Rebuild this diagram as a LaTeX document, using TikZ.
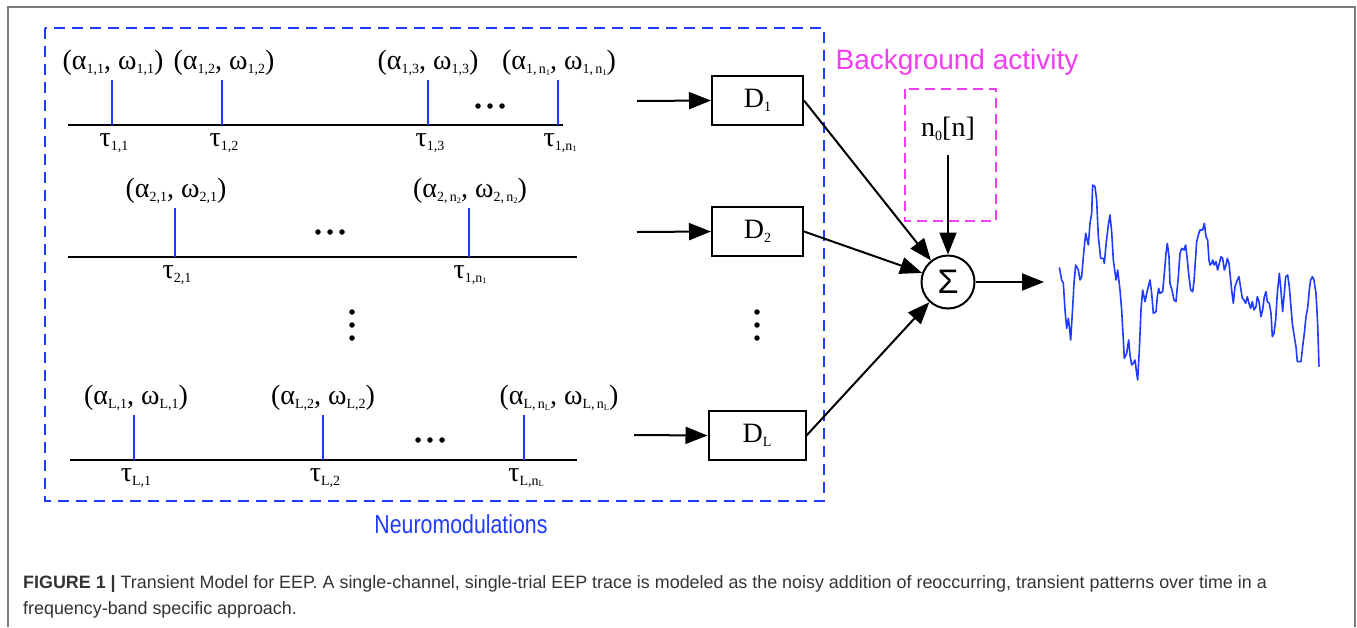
\documentclass[tikz,border=0pt]{standalone}
\usepackage{fontspec}
\setmainfont{Liberation Serif}
\newfontfamily\arialfont{Liberation Sans}
\usetikzlibrary{arrows.meta}

\definecolor{nmblue}{HTML}{1F3BFF}
\definecolor{bgpink}{HTML}{F23CF2}
\definecolor{framegray}{HTML}{7A7A7A}
\definecolor{captext}{HTML}{333333}

% lowered subscripts in text mode
\newcommand\sbx[1]{\raisebox{-0.3ex}{\fontsize{14}{14}\selectfont #1}}
\newcommand\sbn[1]{\raisebox{-0.25ex}{\fontsize{8.5}{8.5}\selectfont #1}}

\tikzset{
  lbl/.style={inner sep=0pt, font=\fontsize{28}{32}\selectfont},
  axis/.style={line width=2.4pt, black},
  tick/.style={line width=2.4pt, nmblue},
  dbox/.style={draw, line width=2pt, minimum width=91pt, minimum height=49pt, inner sep=0pt, font=\fontsize{28}{32}\selectfont},
  conn/.style={line width=2pt, -{Triangle[length=22pt,width=17pt]}},
  dotsym/.style={circle, fill=black, inner sep=0pt, minimum size=5.5pt},
  wave/.style={line width=1.6pt, nmblue, line join=round},
}

\begin{document}
\begin{tikzpicture}[x=1pt, y=-1pt]
\useasboundingbox (0,0) rectangle (1357,627);

% outer figure frame
\draw[framegray, line width=1.8pt] (8,627) -- (8,7) -- (1355,7) -- (1355,627);

% neuromodulation group
\draw[nmblue, line width=2.5pt, dash pattern=on 11pt off 7pt] (45,28) rectangle (824,501);
\node[font=\arialfont\fontsize{26}{30}\selectfont, text=nmblue] (nmlabel) at (461,524) {\scalebox{0.82}[1]{Neuromodulations}};

% ---- row 1 ----
\coordinate (r1a) at (68,125); \coordinate (r1b) at (563,125);
\draw[axis] (r1a) -- (r1b);
\foreach \n/\x in {11/112, 12/222, 13/428, 1n/558}
  \coordinate (t\n) at (\x,125);
\foreach \n in {11,12,13,1n} \draw[tick] (t\n) -- ++(0,-45);
\node[lbl] (a11) at (113,63) {(α\sbx{1,1}, ω\sbx{1,1})};
\node[lbl] (a12) at (224,63) {(α\sbx{1,2}, ω\sbx{1,2})};
\node[lbl] (a13) at (428,63) {(α\sbx{1,3}, ω\sbx{1,3})};
\node[lbl] (a1n) at (559,63) {(α\sbx{1,\,n\sbn{1}}, ω\sbx{1,\,n\sbn{1}})};
\node[lbl] (u11) at (114,143) {τ\sbx{1,1}};
\node[lbl] (u12) at (224,143) {τ\sbx{1,2}};
\node[lbl] (u13) at (430,143) {τ\sbx{1,3}};
\node[lbl] (u1n) at (560,143) {τ\sbx{1,n\sbn{1}}};
\foreach \i in {0,1,2} \node[dotsym] (d1\i) at (478+\i*12,106) {};

% ---- row 2 ----
\coordinate (r2a) at (68,257); \coordinate (r2b) at (577,257);
\draw[axis] (r2a) -- (r2b);
\coordinate (t21) at (175,257); \coordinate (t2n) at (469,257);
\foreach \n in {21,2n} \draw[tick] (t\n) -- ++(0,-49);
\node[lbl] (a21) at (176,191) {(α\sbx{2,1}, ω\sbx{2,1})};
\node[lbl] (a2n) at (470,191) {(α\sbx{2,\,n\sbn{2}}, ω\sbx{2,\,n\sbn{2}})};
\node[lbl] (u21) at (177,275) {τ\sbx{2,1}};
\node[lbl] (u2n) at (470,275) {τ\sbx{1,n\sbn{1}}};
\foreach \i in {0,1,2} \node[dotsym] (d2\i) at (318+\i*12,232) {};

% vertical ellipsis between rows
\foreach \i in {0,1,2} \node[dotsym] (v1\i) at (352,312+\i*13) {};

% ---- row L ----
\coordinate (r3a) at (70,460); \coordinate (r3b) at (577,460);
\draw[axis] (r3a) -- (r3b);
\coordinate (t31) at (134,460); \coordinate (t32) at (323,460); \coordinate (t3n) at (524,460);
\foreach \n in {31,32,3n} \draw[tick] (t\n) -- ++(0,-45);
\node[lbl] (a31) at (136,398) {(α\sbx{L,1}, ω\sbx{L,1})};
\node[lbl] (a32) at (323,398) {(α\sbx{L,2}, ω\sbx{L,2})};
\node[lbl] (a3n) at (559,398) {(α\sbx{L,\,n\sbn{L}}, ω\sbx{L,\,n\sbn{L}})};
\node[lbl] (u31) at (136,478) {τ\sbx{L,1}};
\node[lbl] (u32) at (325,478) {τ\sbx{L,2}};
\node[lbl] (u3n) at (526,478) {τ\sbx{L,n\sbn{L}}};
\foreach \i in {0,1,2} \node[dotsym] (d3\i) at (418+\i*12,440) {};

% ---- filters ----
\node[dbox] (D1) at (757.5,100.5) {D\sbx{1}};
\node[dbox] (D2) at (757.5,231.5) {D\sbx{2}};
\node[dbox, minimum width=97pt] (DL) at (757,435.5) {D\sbx{L}};
\coordinate (in1) at (637,101);
\coordinate (in2) at (637,232);
\coordinate (inL) at (634,435);
\draw[conn] (in1) -- (D1.west);
\draw[conn] (in2) -- (D2.west);
\draw[conn] (inL) -- (DL.west);
\foreach \i in {0,1,2} \node[dotsym] (v2\i) at (757,312+\i*13) {};

% ---- summation ----
\node[draw, circle, line width=2pt, minimum size=53pt, inner sep=0pt,
      font=\arialfont\fontsize{34}{34}\selectfont] (sum) at (948,282) {Σ};
\draw[conn] (D1.east) -- (sum);
\draw[conn] (D2.east) -- (sum);
\draw[conn] (DL.east) -- (sum);

% background activity
\draw[bgpink, line width=2pt, dash pattern=on 10pt off 6pt] (905,89) rectangle (996,221);
\node[font=\arialfont\fontsize{28}{32}\selectfont, text=bgpink] (bglabel) at (957,62) {Background activity};
\node[lbl] (noise) at (948,129) {n\sbx{0}[n]};
\coordinate (nz) at (948,155);
\draw[conn] (nz) -- (sum);

% output
\coordinate (out) at (1044,282);
\draw[conn] (sum) -- (out);

% ---- output trace ----
\begin{scope}[shift={(1040,170)}, x=0.3333pt, y=-0.3333pt]
\draw[wave] plot coordinates {
(58,292) (65,330) (70,340) (75,420) (80,475) (85,445) (88,470) (92,510)
(97,430) (102,340) (107,285) (115,300) (120,330) (125,320) (130,260) (137,190)
(145,225) (150,160) (155,130) (158,45) (165,50) (170,90) (175,200) (182,265)
(190,265) (193,280) (198,225) (205,165) (210,135) (215,185) (220,270) (228,330)
(233,300) (240,360) (245,420) (250,510) (253,565) (260,550) (266,510) (270,555)
(275,585) (280,580) (285,570) (290,610) (293,630) (298,540) (303,420) (308,360)
(315,395) (320,370) (325,350) (330,330) (335,370) (340,430) (348,425) (352,380)
(356,355) (360,370) (368,365) (373,310) (378,250) (382,220) (387,260) (390,340)
(396,360) (402,390) (408,395) (415,320) (420,250) (425,235) (432,240) (437,225)
(442,270) (447,320) (452,360) (458,365) (462,335) (467,260) (470,215) (475,195)
(480,180) (488,180) (493,160) (498,200) (503,210) (507,270) (510,285) (515,280)
(518,270) (523,285) (528,275) (533,300) (538,280) (543,260) (548,265) (553,300)
(558,285) (562,265) (567,280) (570,310) (575,360) (580,400) (585,350) (592,330)
(597,320) (603,360) (607,385) (612,390) (617,400) (622,380) (627,400) (632,415)
(637,395) (642,420) (648,410) (652,380) (657,395) (663,440) (668,420) (673,380)
(678,365) (682,395) (688,400) (693,430) (697,500) (702,490) (707,450) (712,370)
(718,310) (722,350) (728,425) (733,370) (737,320) (743,315) (748,350) (752,400)
(757,460) (763,500) (768,530) (772,575) (778,575) (783,575) (788,530) (793,490)
(798,440) (803,415) (808,360) (812,330) (817,320) (822,330) (828,370) (833,460)
(837,590)};
\end{scope}

% ---- caption ----
\node[anchor=base west, inner sep=0pt, text=captext, font=\arialfont\fontsize{17.9}{22}\selectfont] (cap1) at (23,588)
  {\textbf{FIGURE 1 |} Transient Model for EEP. A single-channel, single-trial EEP trace is modeled as the noisy addition of reoccurring, transient patterns over time in a};
\node[anchor=base west, inner sep=0pt, text=captext, font=\arialfont\fontsize{17.9}{22}\selectfont] (cap2) at (23,614)
  {frequency-band specific approach.};
\end{tikzpicture}
\end{document}
